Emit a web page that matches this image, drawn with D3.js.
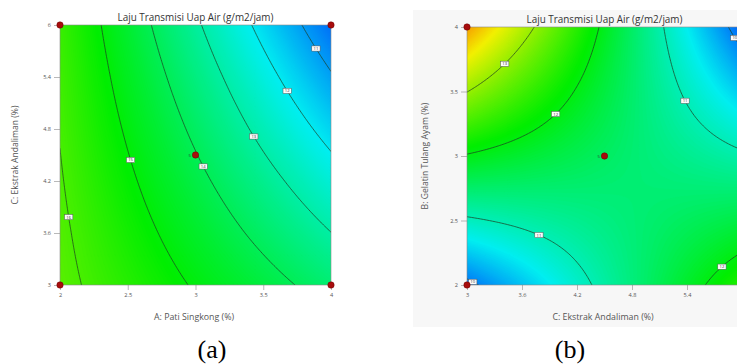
<!DOCTYPE html>
<html><head><meta charset="utf-8">
<script src="https://cdn.jsdelivr.net/npm/d3@7"></script>
<style>body{margin:0;background:#fff;} svg{display:block;}</style>
</head><body>
<svg id="c" width="737" height="364"></svg>
<script>
// ---------------- data ----------------
const chartTitle = "Laju Transmisi Uap Air (g/m2/jam)";
const captions = ["(a)", "(b)"];

// Panel (a): A (Pati Singkong) vs C (Ekstrak Andaliman)
const aXLabel = "A: Pati Singkong (%)";
const aYLabel = "C: Ekstrak Andaliman (%)";
const aXTicks = [2, 2.5, 3, 3.5, 4];
const aYTicks = [3, 3.6, 4.2, 4.8, 5.4, 6];
// response read at tick nodes; rows C = 3 … 6, columns A = 2 … 4
const aGrid = [
  [16.20, 15.57, 14.93, 14.30, 13.66],
  [16.13, 15.35, 14.57, 13.79, 13.01],
  [16.05, 15.13, 14.21, 13.29, 12.37],
  [15.97, 14.91, 13.85, 12.78, 11.72],
  [15.90, 14.69, 13.49, 12.28, 11.07],
  [15.82, 14.47, 13.12, 11.77, 10.42]
];
const aLevels = [11, 12, 13, 14, 15, 16];
const aColorRange = [9.0, 21.2];
const aPoints = [[2, 3], [2, 6], [4, 3], [4, 6], [3, 4.5]];
const aPointCounts = [1, 1, 1, 1, 5];

// Panel (b): C (Ekstrak Andaliman) vs B (Gelatin Tulang Ayam)
const bXLabel = "C: Ekstrak Andaliman (%)";
const bYLabel = "B: Gelatin Tulang Ayam (%)";
const bXTicks = [3, 3.6, 4.2, 4.8, 5.4, 6];
const bYTicks = [2, 2.5, 3, 3.5, 4];
// rows B = 2 … 4, columns C = 3 … 6
const bGrid = [
  [9.90, 10.38, 10.87, 11.35, 11.84, 12.32],
  [10.94, 11.09, 11.24, 11.39, 11.54, 11.69],
  [11.97, 11.79, 11.61, 11.42, 11.24, 11.06],
  [13.01, 12.49, 11.97, 11.46, 10.94, 10.42],
  [14.05, 13.19, 12.34, 11.49, 10.64, 9.79]
];
const bLevels = [10, 11, 12, 13];
const bColorRange = [9.2, 15.0];
const bPoints = [[3, 2], [3, 4], [6, 2], [6, 4], [4.5, 3]];
const bPointCounts = [1, 1, 1, 1, 5];

// ---------------- drawing ----------------
const W = 737;
const svg = d3.select("#c");
const FONT = "'Open Sans', 'Noto Sans', sans-serif";

// light panel behind (b)
svg.append("rect").attr("x", 413).attr("y", 10).attr("width", 330).attr("height", 317)
  .attr("fill", "#f7f7f7");

const panels = [
  {id: "a", xr: [60, 331], yr: [285, 25], xTicks: aXTicks, yTicks: aYTicks, grid: aGrid,
   levels: aLevels, colorRange: aColorRange, points: aPoints, counts: aPointCounts,
   xLabel: aXLabel, yLabel: aYLabel, yLabelX: 18, caption: captions[0], capX: 212},
  {id: "b", xr: [467, 742], yr: [285, 27], xTicks: bXTicks, yTicks: bYTicks, grid: bGrid,
   levels: bLevels, colorRange: bColorRange, points: bPoints, counts: bPointCounts,
   xLabel: bXLabel, yLabel: bYLabel, yLabelX: 428, caption: captions[1], capX: 570}
];

panels.forEach(drawPanel);

function drawPanel(cfg) {
  const g = svg.append("g");
  const xS = d3.scaleLinear().domain(d3.extent(cfg.xTicks)).range(cfg.xr);
  const yS = d3.scaleLinear().domain(d3.extent(cfg.yTicks)).range(cfg.yr);
  const [X0, X1] = xS.domain(), [Y0, Y1] = yS.domain();
  const L = Math.min(...cfg.xr), R = Math.max(...cfg.xr);
  const T = Math.min(...cfg.yr), B = Math.max(...cfg.yr);
  const xs = cfg.xTicks, ys = cfg.yTicks;

  function interp(x, y) {
    const nx = xs.length, ny = ys.length;
    const i = Math.min(nx - 2, Math.max(0, Math.floor((x - xs[0]) / (xs[1] - xs[0]) + 1e-9)));
    const j = Math.min(ny - 2, Math.max(0, Math.floor((y - ys[0]) / (ys[1] - ys[0]) + 1e-9)));
    const u = (x - xs[i]) / (xs[i + 1] - xs[i]);
    const v = (y - ys[j]) / (ys[j + 1] - ys[j]);
    const G = cfg.grid;
    return G[j][i] * (1 - u) * (1 - v) + G[j][i + 1] * u * (1 - v) +
           G[j + 1][i] * (1 - u) * v + G[j + 1][i + 1] * u * v;
  }

  const pad = 3;
  const cx = Math.round((R - L) / 1.5), cy = Math.round((B - T) / 1.5);
  const sx = (X1 - X0) / cx, sy = (Y1 - Y0) / cy;
  const nX = cx + 2 * pad + 1, nY = cy + 2 * pad + 1;
  const values = new Float64Array(nX * nY);
  for (let j = 0; j < nY; j++)
    for (let i = 0; i < nX; i++)
      values[j * nX + i] = interp(X0 + (i - pad) * sx, Y0 + (j - pad) * sy);

  const toPx = (c, r) => [xS(X0 + (c - 0.5 - pad) * sx), yS(Y0 + (r - 0.5 - pad) * sy)];
  const proj = d3.geoTransform({point(x, y) { const p = toPx(x, y); this.stream.point(p[0], p[1]); }});
  const path = d3.geoPath(proj);

  const clipId = "clip-" + cfg.id;
  svg.append("defs").append("clipPath").attr("id", clipId)
    .append("rect").attr("x", L).attr("y", T).attr("width", R - L).attr("height", B - T);

  const [vmin, vmax] = cfg.colorRange;
  const color = d3.scaleLinear()
    .domain([0, 0.25, 0.5, 0.75, 1].map(t => vmin + t * (vmax - vmin)))
    .range(["#0000ff", "#00eef0", "#00ee00", "#f2f000", "#ff0000"]).clamp(true);

  const ext = d3.extent(values);
  const nB = 160;
  const thr = d3.range(nB).map(k => ext[0] + (ext[1] - ext[0]) * k / nB);
  const step = (ext[1] - ext[0]) / nB;
  const bands = d3.contours().size([nX, nY]).thresholds(thr)(values);

  const field = g.append("g").attr("clip-path", `url(#${clipId})`);
  field.selectAll("path.band").data(bands).join("path")
    .attr("class", "band")
    .attr("d", path)
    .attr("fill", d => color(d.value + step / 2))
    .attr("stroke", d => color(d.value + step / 2))
    .attr("stroke-width", 0.3);

  // contour lines
  const lines = d3.contours().size([nX, nY]).thresholds(cfg.levels)(values);
  const inside = p => p[0] >= L - 0.01 && p[0] <= R + 0.01 && p[1] >= T - 0.01 && p[1] <= B + 0.01;
  function runsOf(ring) {
    const pts = ring.slice(0, -1).map(([x, y]) => toPx(x, y));
    const n = pts.length;
    const ins = pts.map(inside);
    const start = ins.indexOf(false);
    if (start < 0) return [{draw: pts.concat([pts[0]]), inner: pts.concat([pts[0]])}];
    const runs = [];
    let cur = null;
    for (let k = 1; k <= n; k++) {
      const idx = (start + k) % n;
      if (ins[idx]) {
        if (!cur) cur = {draw: [pts[(idx - 1 + n) % n]], inner: []};
        cur.draw.push(pts[idx]); cur.inner.push(pts[idx]);
      } else if (cur) {
        cur.draw.push(pts[idx]); runs.push(cur); cur = null;
      }
    }
    if (cur) runs.push(cur);
    return runs;
  }
  const lineLayer = g.append("g").attr("clip-path", `url(#${clipId})`);
  const labels = [];
  lines.forEach(c => {
    c.coordinates.forEach(poly => poly.forEach(ring => {
      runsOf(ring).forEach(run => {
        lineLayer.append("path").attr("d", d3.line()(run.draw))
          .attr("fill", "none").attr("stroke", "#1d3d22").attr("stroke-opacity", 0.9)
          .attr("stroke-width", 0.8);
        const inn = run.inner;
        if (!inn.length) return;
        let total = 0; const cum = [0];
        for (let k = 1; k < inn.length; k++) {
          total += Math.hypot(inn[k][0] - inn[k - 1][0], inn[k][1] - inn[k - 1][1]);
          cum.push(total);
        }
        const half = total / 2;
        let k = 1; while (k < inn.length && cum[k] < half) k++;
        let pt = inn[0];
        if (k < inn.length) {
          const f = (half - cum[k - 1]) / ((cum[k] - cum[k - 1]) || 1);
          pt = [inn[k - 1][0] + f * (inn[k][0] - inn[k - 1][0]), inn[k - 1][1] + f * (inn[k][1] - inn[k - 1][1])];
        }
        labels.push({value: c.value, pt});
      });
    }));
  });
  const lab = g.append("g");
  labels.forEach(l => {
    const txt = String(l.value);
    const w = txt.length * 2.4 + 3.5, h = 5.2;
    lab.append("rect").attr("x", l.pt[0] - w / 2).attr("y", l.pt[1] - h / 2)
      .attr("width", w).attr("height", h).attr("fill", "#fbfbfb")
      .attr("stroke", "#555").attr("stroke-width", 0.5);
    lab.append("text").attr("x", l.pt[0]).attr("y", l.pt[1] + 1.5)
      .attr("text-anchor", "middle").attr("font-size", 4.2).attr("font-family", FONT)
      .attr("fill", "#333").text(txt);
  });

  // border
  g.append("rect").attr("x", L).attr("y", T).attr("width", R - L).attr("height", B - T)
    .attr("fill", "none").attr("stroke", "#8a8a8a").attr("stroke-width", 0.6);

  // axes
  const fmt = d => String(d);
  const ax = g.append("g").attr("transform", `translate(0,${B})`)
    .call(d3.axisBottom(xS).tickValues(cfg.xTicks).tickFormat(fmt).tickSize(5).tickPadding(3));
  const ay = g.append("g").attr("transform", `translate(${L},0)`)
    .call(d3.axisLeft(yS).tickValues(cfg.yTicks).tickFormat(fmt).tickSize(6).tickPadding(3));
  [ax, ay].forEach(a => {
    a.select(".domain").remove();
    a.selectAll(".tick line").attr("stroke", "#8a8a8a").attr("stroke-width", 0.6);
    a.selectAll(".tick text").attr("font-size", 5.6).attr("font-family", FONT).attr("fill", "#555");
  });
  // ticks that fall past the photographed window edge are not shown in the reference
  ax.selectAll(".tick").filter(d => xS(d) > W - 3).remove();

  // design points
  cfg.points.forEach((p, i) => {
    g.append("circle").attr("cx", xS(p[0])).attr("cy", yS(p[1])).attr("r", 3.2)
      .attr("fill", "#a80c0c").attr("stroke", "#6a0000").attr("stroke-width", 0.5);
    if (cfg.counts[i] > 1) {
      g.append("text").attr("x", xS(p[0]) - 4.5).attr("y", yS(p[1]) + 1.5)
        .attr("text-anchor", "end").attr("font-size", 4.2).attr("font-family", FONT)
        .attr("fill", "#333").text(String(cfg.counts[i]));
    }
  });

  // titles
  const midX = (L + R) / 2, midY = (T + B) / 2;
  g.append("text").attr("x", midX).attr("y", T - 4.5).attr("text-anchor", "middle")
    .attr("font-size", 9.9).attr("font-family", FONT).attr("fill", "#333").text(chartTitle);
  g.append("text").attr("x", midX - 1.5).attr("y", B + 35).attr("text-anchor", "middle")
    .attr("font-size", 8.8).attr("font-family", FONT).attr("fill", "#555").text(cfg.xLabel);
  g.append("text").attr("transform", `translate(${cfg.yLabelX},${midY}) rotate(-90)`)
    .attr("text-anchor", "middle").attr("font-size", 8.6).attr("font-family", FONT)
    .attr("fill", "#555").text(cfg.yLabel);

  // caption
  svg.append("text").attr("x", cfg.capX).attr("y", 358).attr("text-anchor", "middle")
    .attr("font-size", 26).attr("font-family", "'Liberation Serif', 'Times New Roman', serif")
    .attr("fill", "#000").text(cfg.caption);
}
</script>
</body></html>
